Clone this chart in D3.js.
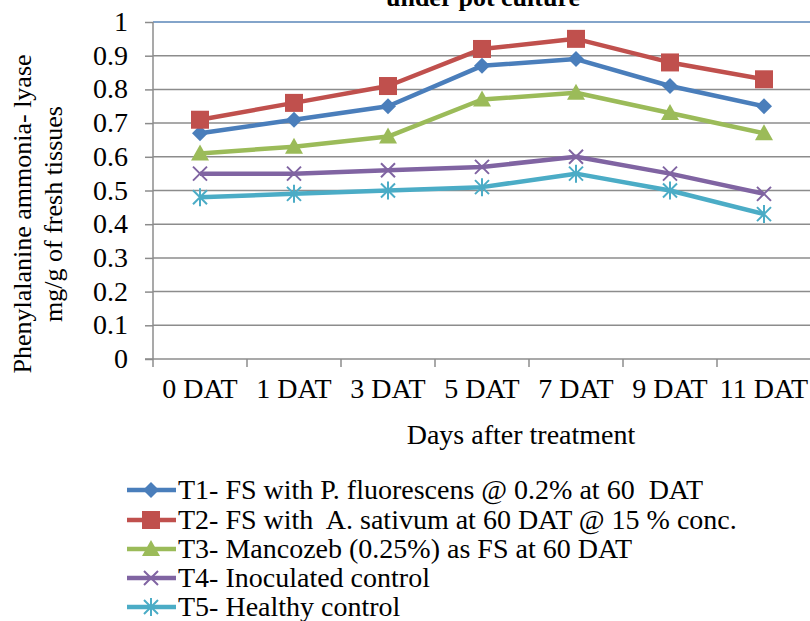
<!DOCTYPE html>
<html>
<head>
<meta charset="utf-8">
<script src="https://cdn.jsdelivr.net/npm/d3@7"></script>
</head>
<body style="margin:0;background:#fff">
<script>
// data
var days = ['0 DAT', '1 DAT', '3 DAT', '5 DAT', '7 DAT', '9 DAT', '11 DAT'];
var yTicks = [0, 0.1, 0.2, 0.3, 0.4, 0.5, 0.6, 0.7, 0.8, 0.9, 1];
var t1 = [0.67, 0.71, 0.75, 0.87, 0.89, 0.81, 0.75];
var t2 = [0.71, 0.76, 0.81, 0.92, 0.95, 0.88, 0.83];
var t3 = [0.61, 0.63, 0.66, 0.77, 0.79, 0.73, 0.67];
var t4 = [0.55, 0.55, 0.56, 0.57, 0.60, 0.55, 0.49];
var t5 = [0.48, 0.49, 0.50, 0.51, 0.55, 0.50, 0.43];
var names = [
    'T1- FS with P. fluorescens @ 0.2% at 60  DAT',
    'T2- FS with  A. sativum at 60 DAT @ 15 % conc.',
    'T3- Mancozeb (0.25%) as FS at 60 DAT',
    'T4- Inoculated control',
    'T5- Healthy control'
];

var def = {
    width: 810,
    height: 621,
    left: 153,
    right: 811,
    top: 22,
    bottom: 359
};
var FONT = 'Liberation Serif';

var series = [
    { name: names[0], values: t1, color: '#4a7ebb', marker: 'diamond' },
    { name: names[1], values: t2, color: '#c0504d', marker: 'square' },
    { name: names[2], values: t3, color: '#9bbb59', marker: 'triangle' },
    { name: names[3], values: t4, color: '#8064a2', marker: 'cross' },
    { name: names[4], values: t5, color: '#4bacc6', marker: 'star' }
];

var svg = d3.select('body').append('svg')
    .attr('width', def.width)
    .attr('height', def.height)
    .attr('font-family', FONT);

// every text goes through here
function label(parent, size) {
    return parent.append('text')
        .attr('font-family', FONT)
        .attr('font-size', size)
        .attr('fill', '#000');
}

var x = d3.scaleBand()
    .domain(days)
    .range([def.left, def.right]);

var y = d3.scaleLinear()
    .domain([0, 1])
    .range([def.bottom, def.top]);

// title (cut off at the top in the original)
label(svg, 26)
    .attr('x', 483)
    .attr('y', 6)
    .attr('text-anchor', 'middle')
    .attr('font-weight', 'bold')
    .text('under pot culture');

// gridlines
svg.append('g')
    .selectAll('line')
    .data(yTicks.slice(1))
    .enter()
    .append('line')
    .attr('x1', def.left)
    .attr('x2', def.right)
    .attr('y1', d => y(d))
    .attr('y2', d => y(d))
    .attr('stroke', d => d === 1 ? '#5a86b8' : '#8c8c8c')
    .attr('stroke-width', 1.5);

// y axis: line and tick marks from the scale, labels after
var yAx = d3.axisLeft(y)
    .tickValues(yTicks)
    .tickSize(8)
    .tickFormat('');
var yUnit = svg.append('g')
    .attr('transform', 'translate(' + def.left + ',0)')
    .call(yAx);
yUnit.select('.domain').attr('stroke', '#8c8c8c').attr('stroke-width', 1.5)
    .attr('d', 'M0,' + def.bottom + 'V' + def.top);
yUnit.selectAll('.tick line').attr('stroke', '#8c8c8c').attr('stroke-width', 1.5);
yTicks.forEach(function (t) {
    label(svg, 28)
        .attr('x', def.left - 25)
        .attr('y', y(t) + 9)
        .attr('text-anchor', 'end')
        .text(t === 0 || t === 1 ? String(t) : d3.format('.1f')(t));
});

// x axis with ticks between categories
var xUnit = svg.append('g')
    .attr('transform', 'translate(0,' + def.bottom + ')');
xUnit.append('line')
    .attr('x1', def.left - 8)
    .attr('x2', def.right)
    .attr('stroke', '#8c8c8c')
    .attr('stroke-width', 1.5);
xUnit.selectAll('.xtick')
    .data(days)
    .enter()
    .append('line')
    .attr('class', 'xtick')
    .attr('x1', d => x(d))
    .attr('x2', d => x(d))
    .attr('y1', 0)
    .attr('y2', 8)
    .attr('stroke', '#8c8c8c')
    .attr('stroke-width', 1.5);
days.forEach(function (d) {
    label(xUnit, 28)
        .attr('x', x(d) + x.bandwidth() / 2)
        .attr('y', 39)
        .attr('text-anchor', 'middle')
        .text(d);
});

// axis titles
label(svg, 28)
    .attr('x', 521)
    .attr('y', 444)
    .attr('text-anchor', 'middle')
    .text('Days after treatment');

var yLab = label(svg, 26)
    .attr('transform', 'translate(31,214) rotate(-90)')
    .attr('text-anchor', 'middle');
yLab.append('tspan').attr('x', 0).attr('dy', 0).text('Phenylalanine ammonia- lyase');
yLab.append('tspan').attr('x', 0).attr('dy', 31).text('mg/g of fresh tissues');

// markers
function drawMarker(sel, type, color) {
    if (type === 'diamond') {
        sel.append('path').attr('d', 'M0,-8L8,0L0,8L-8,0Z').attr('fill', color);
    } else if (type === 'square') {
        sel.append('rect').attr('x', -9).attr('y', -9).attr('width', 18).attr('height', 18).attr('fill', color);
    } else if (type === 'triangle') {
        sel.append('path').attr('d', 'M0,-9L9,7L-9,7Z').attr('fill', color);
    } else if (type === 'cross') {
        sel.append('path').attr('d', 'M-7,-7L7,7M-7,7L7,-7').attr('stroke', color).attr('stroke-width', 2).attr('fill', 'none');
    } else if (type === 'star') {
        sel.append('path').attr('d', 'M-7,-7L7,7M-7,7L7,-7M0,-9V9').attr('stroke', color).attr('stroke-width', 2).attr('fill', 'none');
    }
}

var line = d3.line()
    .x((d, i) => x(days[i]) + x.bandwidth() / 2)
    .y(d => y(d));

var lines = svg.append('g');
series.forEach(function (s) {
    var g = lines.append('g');
    g.append('path')
        .attr('d', line(s.values))
        .attr('fill', 'none')
        .attr('stroke', s.color)
        .attr('stroke-width', 4.5)
        .attr('stroke-linejoin', 'round');
    g.selectAll('.pt')
        .data(s.values)
        .enter()
        .append('g')
        .attr('class', 'pt')
        .attr('transform', (d, i) => 'translate(' + (x(days[i]) + x.bandwidth() / 2) + ',' + y(d) + ')')
        .each(function () { drawMarker(d3.select(this), s.marker, s.color); });
});

// legend
var legend = svg.append('g');
var rowY = [490, 520, 549, 578, 607];
series.forEach(function (s, i) {
    var row = legend.append('g').attr('transform', 'translate(0,' + rowY[i] + ')');
    row.append('line')
        .attr('x1', 127).attr('x2', 176)
        .attr('stroke', s.color)
        .attr('stroke-width', 4.5);
    var m = row.append('g').attr('transform', 'translate(151,0)');
    drawMarker(m, s.marker, s.color);
    label(row, 28)
        .attr('x', 178)
        .attr('y', 9)
        .style('white-space', 'pre')
        .text(s.name);
});
</script>
</body>
</html>
